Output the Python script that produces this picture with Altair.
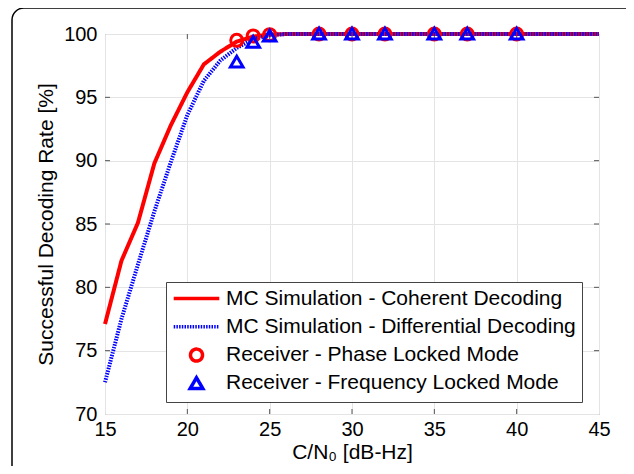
import altair as alt
import pandas as pd

# ---- data ----
x_sim = [15, 16, 17, 18, 19, 20, 21, 22, 23, 24, 25, 26, 30, 35, 40, 45]
coherent = [77.1, 82.1, 85.1, 89.8, 92.8, 95.4, 97.6, 98.6, 99.4, 99.8, 99.95, 100, 100, 100, 100, 100]
differential = [72.5, 77.5, 81.8, 86.0, 89.9, 93.6, 96.3, 97.9, 98.9, 99.6, 99.9, 100, 100, 100, 100, 100]

x_rx = [23, 24, 25, 28, 30, 32, 35, 37, 40]
phase_locked = [99.5, 99.85, 99.95, 100, 100, 100, 100, 100, 100]
freq_locked = [97.8, 99.35, 99.85, 100, 100, 100, 100, 100, 100]

series = [
    "MC Simulation - Coherent Decoding",
    "MC Simulation - Differential Decoding",
    "Receiver - Phase Locked Mode",
    "Receiver - Frequency Locked Mode",
]
x_ticks = [15, 20, 25, 30, 35, 40, 45]
y_ticks = [70, 75, 80, 85, 90, 95, 100]

# ---- tables ----
lines = pd.concat([
    pd.DataFrame({"x": x_sim, "y": coherent, "series": series[0], "o": 0}),
    pd.DataFrame({"x": x_sim, "y": differential, "series": series[1], "o": 1}),
])
points = pd.concat([
    pd.DataFrame({"x": x_rx, "y": phase_locked, "series": series[2]}),
    pd.DataFrame({"x": x_rx, "y": freq_locked, "series": series[3]}),
])
inner_x = pd.DataFrame({"x": x_ticks[1:-1]})
inner_y = pd.DataFrame({"y": y_ticks[1:-1]})

W, H = 494, 380
FONT = "Liberation Sans"

LINE_PATH = "M-3.8,0L3.8,0"
CIRCLE_PATH = "M-1,0A1,1 0 1,1 1,0A1,1 0 1,1 -1,0Z"
TRI_PATH = "M0,-0.95L1.05,0.85L-1.05,0.85Z"

legend = alt.Legend(
    title=None, orient="none", legendX=61, legendY=248,
    padding=6, fillColor="white", strokeColor="#444",
    symbolSize=144, symbolStrokeWidth=3.5, symbolOffset=14,
    labelOffset=19, labelFont=FONT, labelFontSize=21, labelColor="black",
    rowPadding=1.3, labelLimit=0, symbolFillColor="transparent",
    gridAlign="all",
)

color_scale = alt.Scale(domain=series, range=["#ff0000", "#0000ff", "#ff0000", "#0000ff"])
shape_scale = alt.Scale(domain=series, range=[LINE_PATH, LINE_PATH, CIRCLE_PATH, TRI_PATH])
dash_scale = alt.Scale(domain=series, range=[[1, 0], [1.5, 1.2], [1, 0], [1, 0]])

xs = alt.Scale(domain=[15, 45], nice=False)
ys = alt.Scale(domain=[70, 100], nice=False)

x_enc = alt.X("x:Q", scale=xs, axis=alt.Axis(values=x_ticks, title="C/N₀ [dB-Hz]", titlePadding=2))
y_enc = alt.Y("y:Q", scale=ys, axis=alt.Axis(values=y_ticks, title="Successful Decoding Rate [%]", titlePadding=7))

line_layer = alt.Chart(lines).mark_line(strokeWidth=4).encode(
    x=x_enc, y=y_enc,
    color=alt.Color("series:N", scale=color_scale, legend=legend),
    strokeDash=alt.StrokeDash("series:N", scale=dash_scale, legend=legend),
    order="o:Q",
)

point_layer = alt.Chart(points).mark_point(filled=False, strokeWidth=3, size=144, opacity=1).encode(
    x=alt.X("x:Q", scale=xs), y=alt.Y("y:Q", scale=ys),
    color=alt.Color("series:N", scale=color_scale, legend=legend),
    shape=alt.Shape("series:N", scale=shape_scale, legend=legend),
)

tick_color = "#555"
bottom_ticks = alt.Chart(inner_x).mark_rule(color=tick_color, strokeWidth=1).encode(
    x=alt.X("x:Q", scale=xs), y=alt.value(H), y2=alt.value(H - 5))
top_ticks = alt.Chart(inner_x).mark_rule(color=tick_color, strokeWidth=1).encode(
    x=alt.X("x:Q", scale=xs), y=alt.value(0), y2=alt.value(5))
left_ticks = alt.Chart(inner_y).mark_rule(color=tick_color, strokeWidth=1).encode(
    y=alt.Y("y:Q", scale=ys), x=alt.value(0), x2=alt.value(5))
right_ticks = alt.Chart(inner_y).mark_rule(color=tick_color, strokeWidth=1).encode(
    y=alt.Y("y:Q", scale=ys), x=alt.value(W), x2=alt.value(W - 5))

frame = alt.Chart(alt.Data(values=[{}])).mark_rect(
    fill=None, fillOpacity=0, stroke="black", strokeWidth=1.5, cornerRadius=12
).encode(x=alt.value(-93), x2=alt.value(560), y=alt.value(-26), y2=alt.value(480))

chart = alt.layer(
    frame, bottom_ticks, top_ticks, left_ticks, right_ticks, line_layer, point_layer
).properties(
    width=W, height=H,
    autosize=alt.AutoSizeParams(type="none"),
    padding={"left": 97, "top": 26, "right": 27, "bottom": 52},
    background="white",
).configure_view(
    stroke="#666", strokeWidth=1
).configure_axis(
    grid=True, gridColor="#e4e4e4", gridWidth=1,
    domain=False, ticks=False, tickSize=0, labelFlush=False,
    labelFont=FONT, labelFontSize=20, labelColor="black",
    titleFont=FONT, titleFontSize=21, titleFontWeight="normal", titleColor="black",
).configure_axisX(
    labelPadding=5,
).configure_axisY(
    labelPadding=8,
)

chart.save("out.html", embed_options={"renderer": "svg", "actions": False})
